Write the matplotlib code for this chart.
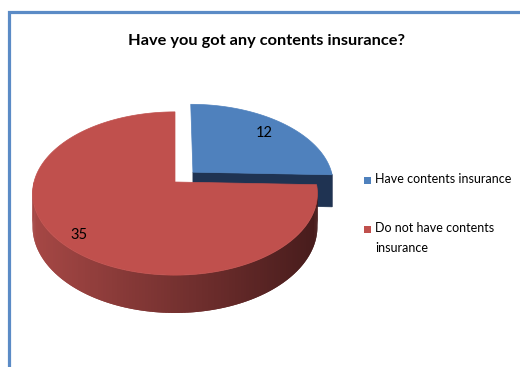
import numpy as np
import matplotlib.pyplot as plt
from matplotlib.patches import Polygon, Rectangle
from matplotlib.collections import PolyCollection
from matplotlib.lines import Line2D

plt.rcParams['font.family'] = ['Lato', 'DejaVu Sans']

# Survey answers
categories = ['Have contents insurance', 'Do not have contents\ninsurance']
counts = [12, 35]
title = 'Have you got any contents insurance?'

top_colors = ['#4F81BD', '#C0504D']
side_light = [(0.17, 0.29, 0.44), (0.65, 0.28, 0.27)]
side_dark = [(0.12, 0.20, 0.32), (0.28, 0.11, 0.11)]
explode = [0.18, 0.0]
label_r = [0.78, 0.87]

# 3D pie projection (screen pixels, y down)
CX, CY = 175, 182
RX, RY = 141, 80
PERSP = 0.141
DEPTH = 32.5


def project(u, v):
    s = 1.0 / (1.0 + PERSP * v)
    return CX + RX * u * s, CY - RY * v * s, s


def rim(du, dv, a):
    r = np.radians(a)
    return project(du + np.sin(r), dv + np.cos(r))


fig = plt.figure(figsize=(5.2, 3.67), dpi=100)
ax = fig.add_axes([0, 0, 1, 1])
ax.set_xlim(0, 520)
ax.set_ylim(367, 0)
ax.axis('off')

# chart frame
ax.add_line(Line2D([9, 9, 520], [367, 12, 12], color='#5B8BC6', lw=2.3,
                   solid_joinstyle='miter'))

ax.text(266, 41, title, ha='center', va='center', fontsize=11.8,
        fontweight='bold', color='black')

total = sum(counts)
angles = np.concatenate([[0], np.cumsum(counts) / total * 360])
slices = []
for i in range(len(counts)):
    a0, a1 = angles[i], angles[i + 1]
    mid = np.radians((a0 + a1) / 2)
    du, dv = explode[i] * np.sin(mid), explode[i] * np.cos(mid)
    slices.append((i, a0, a1, du, dv, mid))

# back slices first
for i, a0, a1, du, dv, mid in sorted(slices, key=lambda t: -t[4]):
    # outer wall, shaded left to right
    w0, w1 = max(a0, 90), min(a1, 270)
    if w1 > w0:
        th = np.linspace(w0, w1, 160)
        pts = [rim(du, dv, a) for a in th]
        xs = np.array([p[0] for p in pts])
        ys = np.array([p[1] for p in pts])
        ss = np.array([p[2] for p in pts])
        polys, cols = [], []
        x_lo, x_hi = CX - RX, CX + RX
        for k in range(len(th) - 1):
            # each strip overlaps the next one to hide seams
            k2 = min(k + 2, len(th) - 1)
            idx = list(range(k, k2 + 1))
            top = [(xs[j], ys[j]) for j in idx]
            bot = [(xs[j], ys[j] + DEPTH * ss[j]) for j in idx[::-1]]
            polys.append(top + bot)
            t = np.clip(((xs[k] + xs[k + 1]) / 2 - x_lo) / (x_hi - x_lo), 0, 1)
            c = np.array(side_light[i]) * (1 - t) + np.array(side_dark[i]) * t
            cols.append(c)
        ax.add_collection(PolyCollection(polys, facecolors=cols,
                                         edgecolors='none'))

    # radial cut faces facing the viewer
    cx0, cy0, cs0 = project(du, dv)
    for a, sign in ((a0, -1), (a1, 1)):
        r = np.radians(a)
        nv = -sign * np.sin(r)
        if nv < -0.05:
            ex, ey, es = rim(du, dv, a)
            ax.add_patch(Polygon([(cx0, cy0), (ex, ey),
                                  (ex, ey + DEPTH * es),
                                  (cx0, cy0 + DEPTH * cs0)],
                                 closed=True, facecolor=side_dark[i],
                                 edgecolor=side_dark[i], lw=0.5))

    # top face
    th = np.linspace(a0, a1, 200)
    pts = [(cx0, cy0)] + [rim(du, dv, a)[:2] for a in th]
    ax.add_patch(Polygon(pts, closed=True, facecolor=top_colors[i],
                         edgecolor=top_colors[i], lw=0.5))

    # value label
    lx, ly, _ = project(du + label_r[i] * np.sin(mid),
                        dv + label_r[i] * np.cos(mid))
    ax.text(lx, ly, str(counts[i]), ha='center', va='center',
            fontsize=10.5, color='black')

# legend
legend_y = [180, 229]
for i, name in enumerate(categories):
    ax.add_patch(Rectangle((363.5, legend_y[i] - 3.5), 7, 7,
                           facecolor=top_colors[i], edgecolor='none'))
    ax.text(375, legend_y[i] - 7, name, ha='left', va='top', fontsize=9,
            color='black', linespacing=1.75)

fig.savefig('out.png', dpi=100)
